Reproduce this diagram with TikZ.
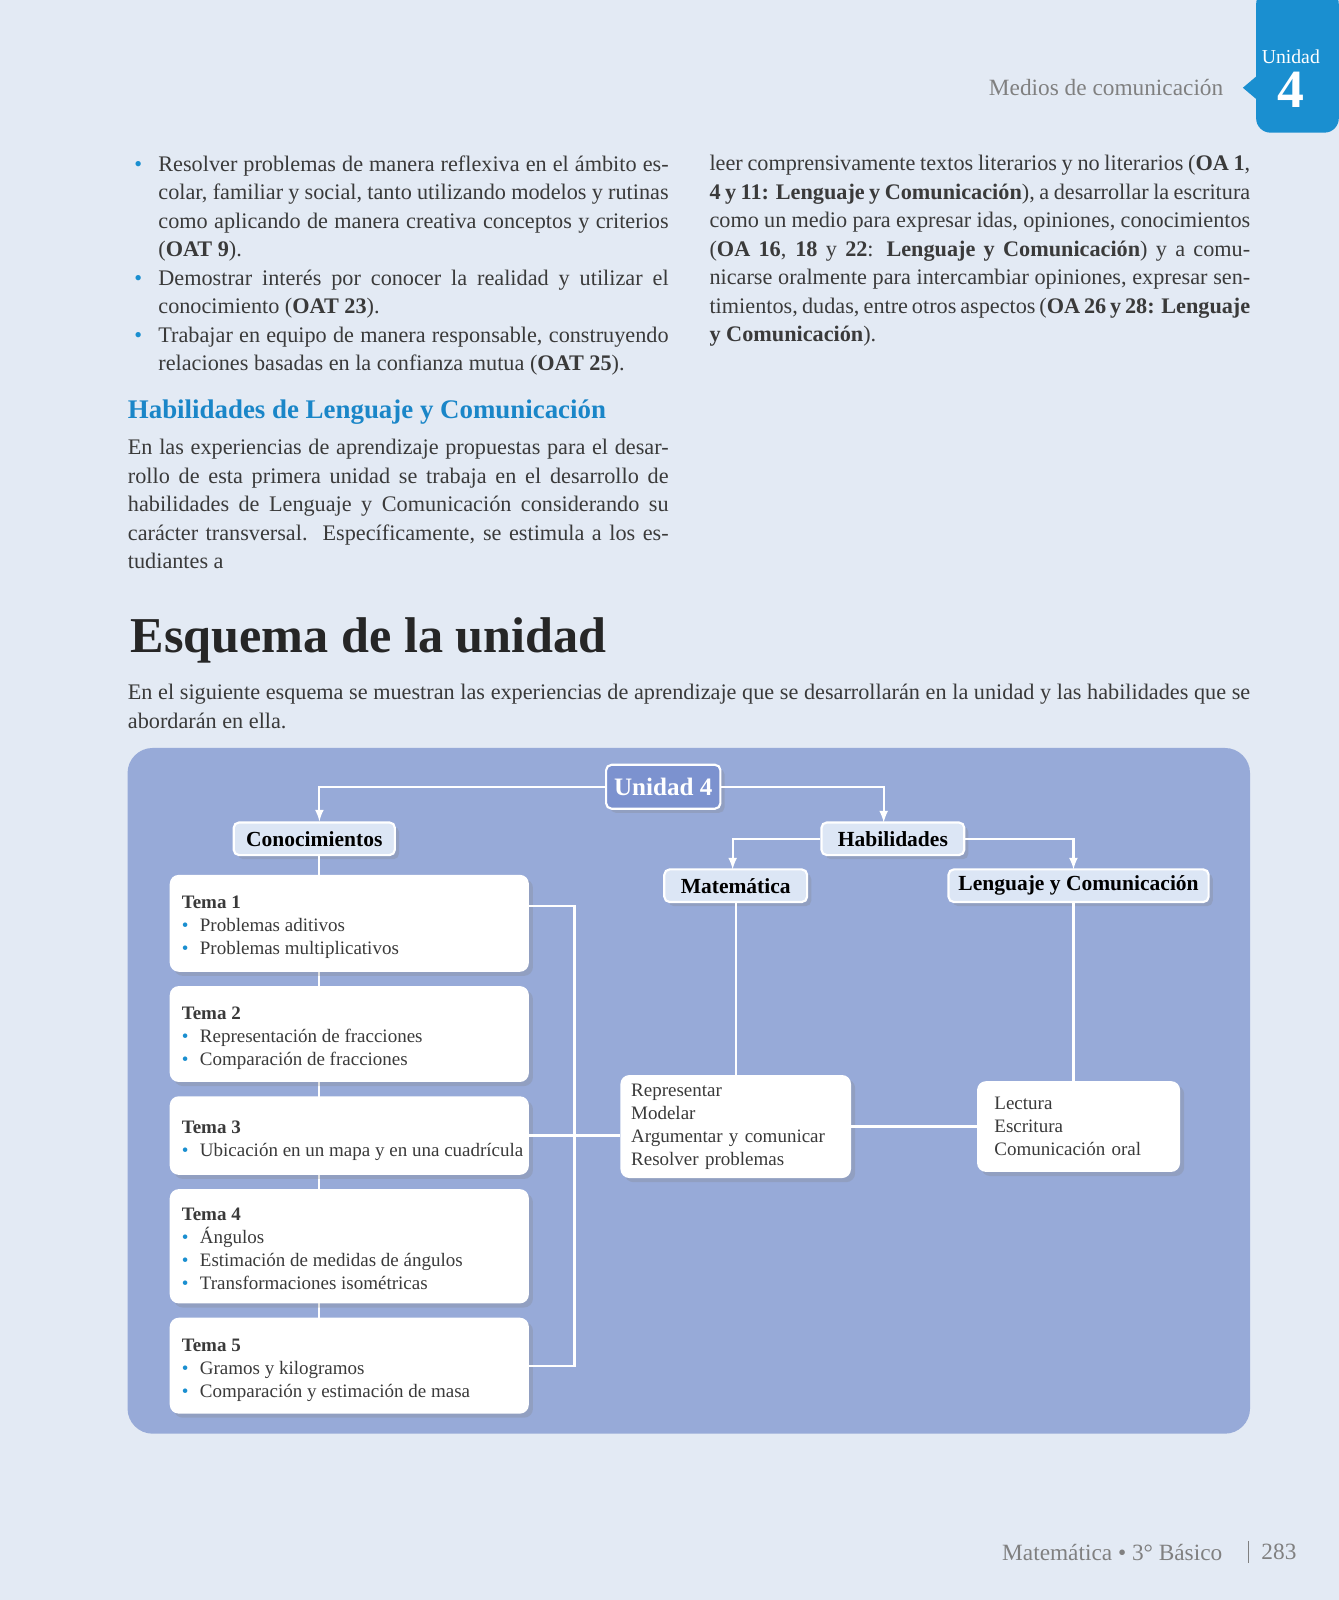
\documentclass[tikz,border=0pt]{standalone}
\usepackage{fontspec}
\setmainfont{Liberation Serif}
\usepackage{tikz}
\usetikzlibrary{positioning,shadows}
\definecolor{pagebg}{HTML}{E3EAF4}
\definecolor{panel}{HTML}{97AAD8}
\definecolor{tabblue}{HTML}{1A8FD0}
\definecolor{boxlight}{HTML}{DCE6F5}
\definecolor{unitbox}{HTML}{7C92CF}
\definecolor{txt}{HTML}{3A3A3A}
\definecolor{headblue}{HTML}{1A86C8}
\newcommand{\bul}{\textcolor{tabblue}{\textbullet}\hspace{0.6em}}
\newcommand{\lbul}{\leavevmode\llap{\textcolor{tabblue}{\textbullet}\hspace{9pt}}}
\tikzset{
  head/.style={draw=white,line width=1.2pt,fill=boxlight,rounded corners=3pt,font=\bfseries\fontsize{12}{14}\selectfont,drop shadow={opacity=0.25}},
  tema/.style={fill=white,rounded corners=5pt,align=left,anchor=north west,inner sep=0pt,drop shadow={opacity=0.25}},
  tlabel/.style={anchor=north west,font=\fontsize{10.6}{12.8}\selectfont,align=left,text=txt},
  wire/.style={draw=white,line width=1.2pt},
  arr/.style={wire,-latex},
  body/.style={anchor=north west,text width=10.6cm,align=justify,font=\fontsize{12.4}{15.9}\selectfont,inner sep=0pt,text=txt}
}
\begin{document}
\begin{tikzpicture}[x=0.02cm,y=-0.02cm]
\useasboundingbox (0,0) rectangle (1312,1568);
\fill[pagebg] (0,0) rectangle (1312,1568);
% unit tab
\fill[tabblue,rounded corners=8pt] (1231,-10) -- (1312,-10) -- (1312,130) -- (1231,130) -- cycle;
\fill[tabblue] (1231,75) -- (1218,86) -- (1231,97) -- cycle;
\node[text=white,font=\fontsize{11}{12}\selectfont] (tabu) at (1265,56) {Unidad};
\node[text=white,font=\bfseries\fontsize{30}{30}\selectfont] (tabn) at (1265,88) {4};
\node[anchor=east,text=gray,font=\fontsize{13}{14}\selectfont] (runhead) at (1205,86) {Medios de comunicación};
% text columns
\node[body] (colL) at (125,152) {%
\leftskip=17pt\parindent=0pt
\lbul Resolver problemas de manera reflexiva en el ámbito escolar, familiar y social, tanto utilizando modelos y rutinas como aplicando de manera creativa conceptos y criterios (\textbf{OAT 9}).\par
\lbul Demostrar interés por conocer la realidad y utilizar el conocimiento (\textbf{OAT 23}).\par
\lbul Trabajar en equipo de manera responsable, construyendo relaciones basadas en la confianza mutua (\textbf{OAT 25}).\par
\vspace{11pt}\leftskip=0pt
{\color{headblue}\bfseries\fontsize{15}{17}\selectfont Habilidades de Lenguaje y Comunicación}\par\vspace{4pt}
En las experiencias de aprendizaje propuestas para el desarrollo de esta primera unidad se trabaja en el desarrollo de habilidades de Lenguaje y Comunicación considerando su carácter transversal.\ \ Específicamente, se estimula a los estudiantes a};
\node[body] (colR) at (695,152) {%
\parindent=0pt leer comprensivamente textos literarios y no literarios (\textbf{OA 1}, \textbf{4 y 11: Lenguaje y Comunicación}), a desarrollar la escritura como un medio para expresar idas, opiniones, conocimientos (\textbf{OA 16}, \textbf{18} y \textbf{22}: \textbf{Lenguaje y Comunicación}) y a comunicarse oralmente para intercambiar opiniones, expresar sentimientos, dudas, entre otros aspectos (\textbf{OA 26 y 28: Lenguaje y Comunicación}).};
\node[anchor=west,font=\bfseries\fontsize{28}{30}\selectfont,text=black!85] (title) at (122,628) {Esquema de la unidad};
\node[body,text width=22cm] (intro) at (125,670) {\parindent=0pt En el siguiente esquema se muestran las experiencias de aprendizaje que se desarrollarán en la unidad y las habilidades que se abordarán en ella.};
% panel
\fill[panel,rounded corners=14pt] (125,733) rectangle (1225,1405);
% nodes
\node[head,fill=unitbox,text=white,font=\bfseries\fontsize{14}{16}\selectfont,minimum width=2.24cm,minimum height=0.86cm] (unidad) at (650,771) {Unidad 4};
\node[head,minimum width=3.16cm,minimum height=0.64cm] (conoc) at (308,822) {Conocimientos};
\node[head,minimum width=2.8cm,minimum height=0.64cm] (habil) at (875,822) {Habilidades};
\node[head,minimum width=2.8cm,minimum height=0.64cm] (mate) at (721,868) {Matemática};
\node[head,minimum width=5.1cm,minimum height=0.64cm] (leng) at (1057,868) {Lenguaje y Comunicación};
\coordinate (cx) at (313,1380);
\draw[wire] (conoc.south -| cx) -- (cx);
\node[tema,minimum width=7.04cm,minimum height=1.9cm] (t1) at (166,857) {};
\node[tlabel] at (172,872) {\textbf{Tema 1}\\\bul Problemas aditivos\\\bul Problemas multiplicativos};
\node[tema,minimum width=7.04cm,minimum height=1.88cm] (t2) at (166,966) {};
\node[tlabel] at (172,981) {\textbf{Tema 2}\\\bul Representación de fracciones\\\bul Comparación de fracciones};
\node[tema,minimum width=7.04cm,minimum height=1.54cm] (t3) at (166,1074) {};
\node[tlabel] at (172,1092) {\textbf{Tema 3}\\\bul Ubicación en un mapa y en una cuadrícula};
\node[tema,minimum width=7.04cm,minimum height=2.24cm] (t4) at (166,1165) {};
\node[tlabel] at (172,1178) {\textbf{Tema 4}\\\bul Ángulos\\\bul Estimación de medidas de ángulos\\\bul Transformaciones isométricas};
\node[tema,minimum width=7.04cm,minimum height=1.88cm] (t5) at (166,1291) {};
\node[tlabel] at (172,1306) {\textbf{Tema 5}\\\bul Gramos y kilogramos\\\bul Comparación y estimación de masa};
\node[tema,anchor=center,minimum width=4.52cm,minimum height=2.02cm,inner sep=0pt,text width=4.1cm,font=\fontsize{10.6}{12.8}\selectfont,text=txt] (repr) at (721,1104) {Representar\\Modelar\\Argumentar y comunicar\\Resolver problemas};
\node[tema,anchor=center,minimum width=3.98cm,minimum height=1.78cm,inner sep=0pt,text width=3.3cm,font=\fontsize{10.6}{12.8}\selectfont,text=txt] (lect) at (1057,1104) {Lectura\\Escritura\\Comunicación oral};
% connectors
\coordinate (bx) at (563,0);
\draw[wire] (t1.east |- 0,888) -| (bx |- t5.east) -- (t5.east);
\draw[wire] (t3.east) -- (t3.east -| repr.west);
\draw[wire] (repr.east) -- (lect.west);
\draw[arr] (unidad.west) -| (conoc.north -| cx);
\draw[arr] (unidad.east) -| (866,806);
\draw[arr] (habil.west) -| (718,852);
\draw[arr] (habil.east) -| (1052,852);
\draw[wire] (mate.south) -- (repr.north);
\draw[wire] (leng.south -| 1052,0) -- (lect.north -| 1052,0);
% footer
\node[anchor=east,text=gray,font=\fontsize{13}{14}\selectfont] (foot) at (1204,1521) {Matemática • 3° Básico};
\draw[gray] (1223,1510) -- (1223,1532);
\node[anchor=west,text=gray,font=\fontsize{13}{14}\selectfont] (page) at (1230,1521) {283};
\end{tikzpicture}
\end{document}
